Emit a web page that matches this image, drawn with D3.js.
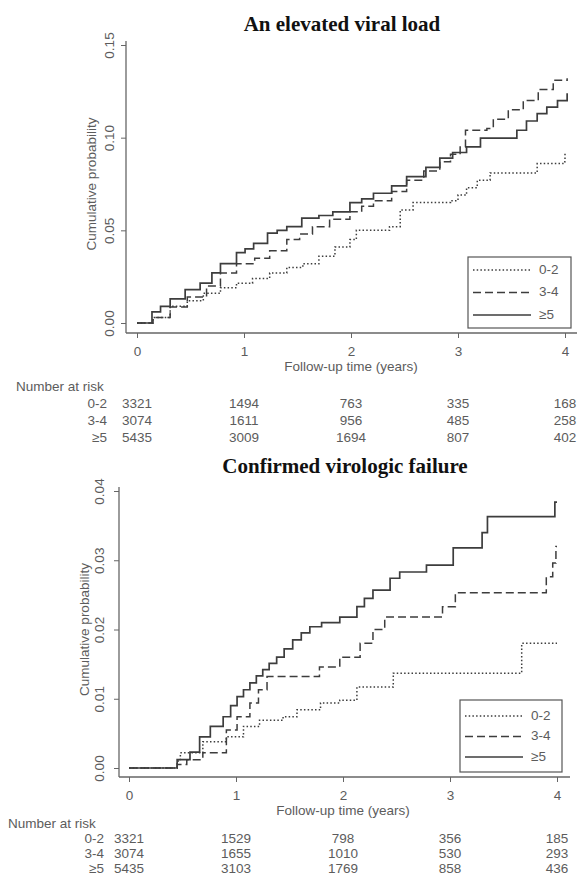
<!DOCTYPE html>
<html><head><meta charset="utf-8">
<script src="https://cdn.jsdelivr.net/npm/d3@7"></script>
<style>body{margin:0;background:#fff}</style>
</head><body>
<svg id="c" width="580" height="890"></svg>
<script>
// ---------- DATA ----------
const groups = ["0-2", "3-4", "\u22655"];
const timeTicks = [0, 1, 2, 3, 4];

const titleA = "An elevated viral load";
const yTicksA = [0, 0.05, 0.10, 0.15];
const yTickLabelsA = ["0.00", "0.05", "0.10", "0.15"];
const curveA_02 = [[0,0],[0.15,0.003],[0.31,0.009],[0.47,0.012],[0.62,0.016],[0.78,0.019],[0.93,0.0215],[1.08,0.024],[1.24,0.027],[1.40,0.030],[1.55,0.032],[1.70,0.036],[1.85,0.041],[1.99,0.045],[2.05,0.050],[2.36,0.052],[2.46,0.061],[2.58,0.065],[2.93,0.066],[3.00,0.069],[3.08,0.073],[3.18,0.077],[3.30,0.081],[3.74,0.086],[3.98,0.087],[4.00,0.092]];
const curveA_34 = [[0,0],[0.15,0.003],[0.31,0.0086],[0.47,0.014],[0.65,0.020],[0.78,0.027],[0.93,0.032],[1.10,0.035],[1.24,0.039],[1.40,0.045],[1.52,0.048],[1.64,0.052],[1.80,0.056],[1.99,0.060],[2.10,0.063],[2.21,0.066],[2.38,0.071],[2.52,0.077],[2.68,0.082],[2.83,0.087],[2.93,0.091],[3.02,0.095],[3.07,0.104],[3.27,0.105],[3.33,0.110],[3.47,0.115],[3.61,0.120],[3.75,0.126],[3.89,0.131],[4.02,0.132]];
const curveA_5 = [[0,0],[0.14,0.006],[0.22,0.009],[0.31,0.013],[0.45,0.018],[0.59,0.0215],[0.70,0.027],[0.78,0.032],[0.93,0.038],[1.01,0.040],[1.09,0.043],[1.22,0.0485],[1.31,0.050],[1.40,0.052],[1.54,0.0566],[1.70,0.058],[1.83,0.060],[1.99,0.065],[2.10,0.067],[2.21,0.070],[2.38,0.074],[2.52,0.079],[2.70,0.084],[2.83,0.089],[2.95,0.092],[3.08,0.095],[3.21,0.0998],[3.55,0.104],[3.64,0.109],[3.74,0.113],[3.83,0.1165],[3.93,0.120],[4.02,0.124]];
const riskA_02 = [3321, 1494, 763, 335, 168];
const riskA_34 = [3074, 1611, 956, 485, 258];
const riskA_5  = [5435, 3009, 1694, 807, 402];

const titleB = "Confirmed virologic failure";
const yTicksB = [0, 0.01, 0.02, 0.03, 0.04];
const yTickLabelsB = ["0.00", "0.01", "0.02", "0.03", "0.04"];
const curveB_02 = [[0,0],[0.45,0.001],[0.48,0.0022],[0.69,0.0038],[0.91,0.0045],[1.07,0.006],[1.22,0.0069],[1.44,0.0074],[1.57,0.0084],[1.79,0.0094],[1.97,0.0098],[2.13,0.0117],[2.47,0.0137],[3.67,0.018],[4.00,0.018]];
const curveB_34 = [[0,0],[0.45,0.0005],[0.54,0.0012],[0.69,0.0022],[0.91,0.0055],[1.01,0.0074],[1.13,0.0094],[1.21,0.0113],[1.29,0.0132],[1.78,0.0146],[1.97,0.016],[2.16,0.018],[2.28,0.020],[2.39,0.0218],[2.93,0.0233],[3.05,0.0253],[3.90,0.0276],[3.96,0.0296],[3.99,0.032],[4.00,0.032]];
const curveB_5 = [[0,0],[0.45,0.0012],[0.57,0.0023],[0.66,0.0045],[0.76,0.006],[0.88,0.0074],[0.95,0.009],[1.01,0.0103],[1.07,0.0113],[1.13,0.0123],[1.19,0.0133],[1.25,0.0142],[1.31,0.0151],[1.38,0.016],[1.45,0.0172],[1.53,0.0185],[1.61,0.0195],[1.69,0.0204],[1.80,0.021],[1.97,0.0218],[2.13,0.0233],[2.20,0.0245],[2.28,0.0257],[2.44,0.0274],[2.53,0.0283],[2.78,0.0293],[3.03,0.0318],[3.30,0.034],[3.35,0.0363],[3.98,0.0384],[4.00,0.0384]];
const riskB_02 = [3321, 1529, 798, 356, 185];
const riskB_34 = [3074, 1655, 1010, 530, 293];
const riskB_5  = [5435, 3103, 1769, 858, 436];

const xLabel = "Follow-up time (years)";
const yLabel = "Cumulative probability";
const riskTitle = "Number at risk";

// ---------- DRAW ----------
const svg = d3.select("#c");
const dashes = ["1.5,2.2", "8,4", null];
const axisCol = "#666", txtCol = "#5c5c5c", lineCol = "#3d3d3d";
const sans = "Liberation Sans, Arial, sans-serif";
const fs = 13.5;

function panel(o) {
  const g = svg.append("g");
  const x = d3.scaleLinear().domain([0, 4]).range([o.x0, o.x4]);
  const y = d3.scaleLinear().domain([0, o.yMax]).range([o.y0, o.yTop]);

  g.append("text").attr("x", o.titleX).attr("y", o.titleY)
    .attr("text-anchor", "middle").attr("font-family", "Liberation Serif, Times New Roman, serif")
    .attr("font-weight", "bold").attr("font-size", 21).attr("fill", "#111").text(o.title);

  // y axis
  const yAx = g.append("g").attr("transform", `translate(${o.axX},0)`)
    .call(d3.axisLeft(y).tickValues(o.yTicks).tickSize(5).tickFormat((d, i) => o.yTickLabels[i]));
  yAx.select(".domain").remove();
  yAx.selectAll("line").attr("stroke", axisCol);
  yAx.selectAll("text").attr("font-family", sans).attr("font-size", fs).attr("fill", txtCol)
    .attr("text-anchor", "middle").attr("x", null).attr("dy", null)
    .attr("transform", `translate(${o.tickLabX - o.axX},0) rotate(-90)`)
    .attr("dominant-baseline", "middle");
  g.append("line").attr("x1", o.axX).attr("x2", o.axX).attr("y1", o.yTop - 4).attr("y2", o.axY)
    .attr("stroke", axisCol).attr("stroke-width", 1.3);
  g.append("text").attr("transform", `translate(${o.yLabX},${(o.yTop + o.y0) / 2}) rotate(-90)`)
    .attr("text-anchor", "middle").attr("dominant-baseline", "middle")
    .attr("font-family", sans).attr("font-size", fs).attr("fill", txtCol).text(yLabel);

  // x axis
  const xAx = g.append("g").attr("transform", `translate(0,${o.axY})`)
    .call(d3.axisBottom(x).tickValues(timeTicks).tickSize(5).tickFormat(d3.format("d")));
  xAx.select(".domain").remove();
  xAx.selectAll("line").attr("stroke", axisCol);
  xAx.selectAll("text").attr("font-family", sans).attr("font-size", fs).attr("fill", txtCol)
    .attr("y", 19).attr("dy", null).attr("dominant-baseline", "middle");
  g.append("line").attr("x1", o.axX).attr("x2", o.axRight).attr("y1", o.axY).attr("y2", o.axY)
    .attr("stroke", axisCol).attr("stroke-width", 1.3);
  g.append("text").attr("x", x(2)).attr("y", o.axY + 34).attr("text-anchor", "middle").attr("dominant-baseline", "middle")
    .attr("font-family", sans).attr("font-size", fs).attr("fill", txtCol).text(xLabel);

  // curves
  const line = d3.line().x(d => x(d[0])).y(d => y(d[1])).curve(d3.curveStepAfter);
  o.curves.forEach((c, i) => {
    g.append("path").attr("d", line(c)).attr("fill", "none").attr("stroke", lineCol)
      .attr("stroke-width", i === 2 ? 1.7 : 1.5).attr("stroke-dasharray", dashes[i]);
  });

  // legend
  const L = o.legend;
  g.append("rect").attr("x", L.x).attr("y", L.y).attr("width", L.w).attr("height", L.h)
    .attr("fill", "#fff").attr("stroke", "#555").attr("stroke-width", 1.2);
  groups.forEach((gr, i) => {
    const yy = L.y + L.first + i * L.gap;
    g.append("line").attr("x1", L.x + 5).attr("x2", L.x + 63).attr("y1", yy).attr("y2", yy)
      .attr("stroke", lineCol).attr("stroke-width", i === 2 ? 1.7 : 1.5).attr("stroke-dasharray", dashes[i]);
    g.append("text").attr("x", L.x + 71).attr("y", yy).attr("dominant-baseline", "middle")
      .attr("font-family", sans).attr("font-size", fs).attr("fill", txtCol).text(gr);
  });

  // risk table
  g.append("text").attr("x", o.riskX).attr("y", o.riskY).attr("dominant-baseline", "middle")
    .attr("font-family", sans).attr("font-size", fs).attr("fill", txtCol).text(riskTitle);
  o.risk.forEach((row, i) => {
    const yy = o.riskY + o.rowGap * (i + 1);
    g.append("text").attr("x", o.rowLabR).attr("y", yy).attr("text-anchor", "end").attr("dominant-baseline", "middle")
      .attr("font-family", sans).attr("font-size", fs).attr("fill", txtCol).text(groups[i]);
    g.selectAll(null).data(row).enter().append("text")
      .attr("x", (d, j) => x(timeTicks[j])).attr("y", yy).attr("text-anchor", "middle").attr("dominant-baseline", "middle")
      .attr("font-family", sans).attr("font-size", fs).attr("fill", txtCol).text(d => d);
  });
}

panel({
  title: titleA, titleX: 342, titleY: 31,
  x0: 137, x4: 565, y0: 323, yTop: 45, yMax: 0.15,
  yTicks: yTicksA, yTickLabels: yTickLabelsA,
  axX: 126, axY: 333, axRight: 577, tickLabX: 110, yLabX: 92,
  curves: [curveA_02, curveA_34, curveA_5],
  legend: {x: 468, y: 257, w: 103, h: 71, first: 13, gap: 22.5},
  risk: [riskA_02, riskA_34, riskA_5], riskX: 16, riskY: 387, rowGap: 17, rowLabR: 107
});
panel({
  title: titleB, titleX: 345, titleY: 473,
  x0: 129, x4: 557, y0: 768, yTop: 491, yMax: 0.04,
  yTicks: yTicksB, yTickLabels: yTickLabelsB,
  axX: 119, axY: 777, axRight: 570, tickLabX: 100, yLabX: 85,
  curves: [curveB_02, curveB_34, curveB_5],
  legend: {x: 460, y: 700, w: 102, h: 72, first: 16, gap: 20.5},
  risk: [riskB_02, riskB_34, riskB_5], riskX: 8, riskY: 824, rowGap: 15, rowLabR: 104
});
</script>
</body></html>
